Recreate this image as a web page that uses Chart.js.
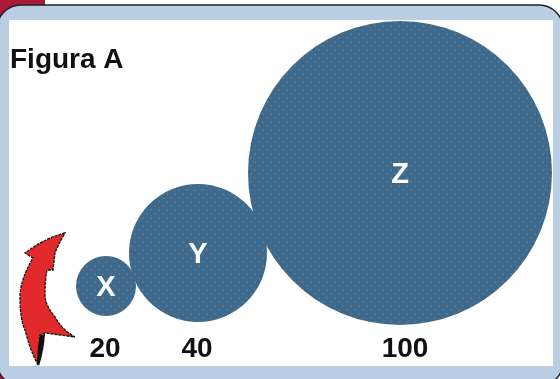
<!DOCTYPE html>
<html>
<head>
<meta charset="utf-8">
<style>
  html, body { margin: 0; padding: 0; background: #fff; overflow: hidden; }
  #frame { position: absolute; left: 0; top: 0; width: 560px; height: 379px; }
  #wrap { position: absolute; left: 9px; top: 20px; width: 544px; height: 346px; background: #fff; }
  #arrow { position: absolute; left: 0; top: 0; width: 560px; height: 379px; }
</style>
</head>
<body>
<svg id="frame" viewBox="0 0 560 379">
  <rect x="0" y="0" width="45" height="16" fill="#a81a38"/>
  <rect x="0" y="360" width="20" height="19" fill="#a81a38"/>
  <rect x="-3" y="5" width="566" height="381" rx="24" fill="#bacee3" stroke="#222" stroke-width="1.5"/>
</svg>
<div id="wrap"><canvas id="cha" width="544" height="346"></canvas></div>
<svg id="arrow" viewBox="0 0 560 379">
  <path d="M65 233 Q45 238 25 253 L33 258 Q20 280 20 297 Q20 320 25 330 Q30 350 38 365 L40 335 L45 333 L75 337 Q62 330 55 317 Q45 305 45 295 Q45 280 47 270 L53 270 L55 253 Q58 245 65 233 Z"
        fill="#e2292b" stroke="#111" stroke-width="1.3" stroke-dasharray="3 1"/>
  <path d="M39 366 Q44 350 45 334 L40 335 Q37 350 37 362 Z" fill="#111"/>
</svg>
<script src="https://cdn.jsdelivr.net/npm/chart.js@4"></script>
<script>
const categorias = ['X', 'Y', 'Z'];
const valores = [20, 40, 100];
const centroX = [97, 189, 391];
const centroY = [48, 81, 161];
const raios = [30, 69, 152];
const marcasX = [96, 188, 396];

// sem isso o grafico encolhe a area para caber os circulos grandes
Chart.BubbleController.prototype.getMaxOverflow = function () {
    return 0;
};

// trama de pontos dos circulos
function trama() {
    const c = document.createElement('canvas');
    c.width = 8;
    c.height = 8;
    const g = c.getContext('2d');
    g.fillStyle = '#3d6a8c';
    g.fillRect(0, 0, 8, 8);
    g.fillStyle = '#55728f';
    g.fillRect(1, 1, 2, 2);
    g.fillRect(5, 5, 2, 2);
    return g.createPattern(c, 'repeat');
}

const rotulos = {
    id: 'rotulos',
    afterDatasetsDraw(chart) {
        const { ctx, scales } = chart;
        ctx.save();
        ctx.textAlign = 'center';
        ctx.textBaseline = 'middle';
        ctx.fillStyle = '#fff';
        ctx.font = 'bold 29px "Liberation Sans"';
        categorias.forEach((nome, i) => {
            ctx.fillText(nome, scales.x.getPixelForValue(centroX[i]), scales.y.getPixelForValue(centroY[i]) + 2);
        });
        ctx.textAlign = 'left';
        ctx.fillStyle = '#111';
        ctx.font = 'bold 28px "Liberation Sans"';
        ctx.fillText('Figura A', 1, 40);
        ctx.restore();
    }
};

const ctx4 = document.getElementById('cha');
const chart4 = new Chart(ctx4, {
    type: 'bubble',
    data: {
        datasets: [{
            data: categorias.map((nome, i) => ({ x: centroX[i], y: centroY[i], r: raios[i] })),
            backgroundColor: trama(),
            borderWidth: 0,
            hoverBorderWidth: 0,
            clip: false,
        }],
    },
    options: {
        responsive: false,
        animation: false,
        layout: { padding: 0 },
        plugins: {
            legend: { display: false },
            title: { display: false },
            tooltip: { enabled: false },
        },
        scales: {
            x: {
                type: 'linear',
                min: 0,
                max: 544,
                grid: { display: false },
                border: { display: false },
                afterBuildTicks(axis) {
                    axis.ticks = marcasX.map(v => ({ value: v }));
                },
                afterFit(axis) {
                    axis.height = 32;
                },
                ticks: {
                    autoSkip: false,
                    maxRotation: 0,
                    padding: -10,
                    color: '#111',
                    font: { family: '"Liberation Sans"', size: 28, weight: 'bold' },
                    callback(v) {
                        return valores[marcasX.indexOf(v)];
                    },
                },
            },
            y: {
                display: false,
                min: 0,
                max: 314,
            },
        },
    },
    plugins: [rotulos],
});
</script>
</body>
</html>
